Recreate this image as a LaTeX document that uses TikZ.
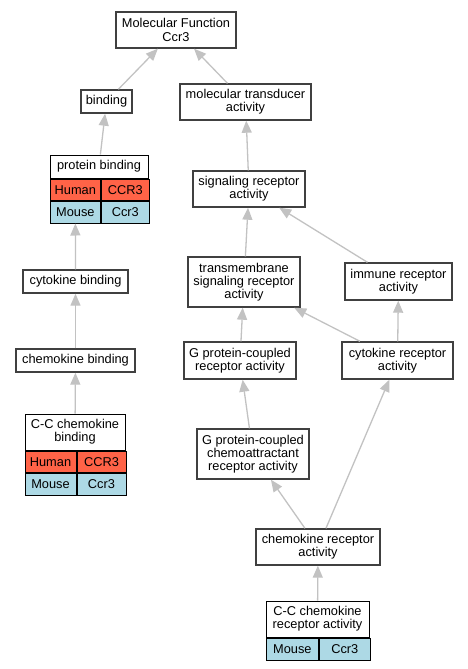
\documentclass[tikz,border=0pt]{standalone}
\usepackage{fontspec}
\setmainfont{Liberation Sans}
\usetikzlibrary{positioning,arrows.meta}
\definecolor{human}{rgb}{1, 0.39, 0.28}
\definecolor{mouse}{rgb}{0.68, 0.85, 0.9}
\definecolor{link}{rgb}{0.76, 0.76, 0.76}
\definecolor{frame}{rgb}{0.25, 0.25, 0.25}
\tikzset{
  term/.style={draw=frame, line width=1.4pt, fill=white, align=center, inner sep=0pt},
  tabtitle/.style={draw=black, line width=1pt, fill=white, align=center, inner sep=0pt},
  cell/.style={draw=black, line width=1pt, inner sep=0pt, minimum height=21.5pt},
  isa/.style={draw=link, line width=1.3pt, -{Triangle[length=12pt, width=10pt]}}
}
\newcommand{\leftterms}{
\node[term, minimum width=120pt, minimum height=36pt] (mf) at (176, 30) {Molecular Function\\Ccr3};
\node[term, minimum width=51pt, minimum height=23pt] (bind) at (106.5, 101.5) {binding};
\node[tabtitle, minimum width=98pt, minimum height=23pt] (pb) at (99, 166.5) {protein binding};
\node[cell, fill=human, minimum width=50.7pt, below right=0pt of pb.south west] (pbh) {Human};
\node[cell, fill=human, minimum width=47.3pt, right=0pt of pbh] (pbhg) {CCR3};
\node[cell, fill=mouse, minimum width=50.7pt, below right=0pt of pbh.south west] (pbm) {Mouse};
\node[cell, fill=mouse, minimum width=47.3pt, right=0pt of pbm] (pbmg) {Ccr3};
\node[term, minimum width=105pt, minimum height=23pt] (cytb) at (75.5, 281.5) {cytokine binding};
\node[term, minimum width=119pt, minimum height=23pt] (chemb) at (75.5, 360.5) {chemokine binding};
\node[tabtitle, minimum width=100pt, minimum height=36pt] (ccb) at (75, 432) {C-C chemokine\\binding};
\node[cell, fill=human, minimum width=51pt, below right=0pt of ccb.south west] (ccbh) {Human};
\node[cell, fill=human, minimum width=49pt, right=0pt of ccbh] (ccbhg) {CCR3};
\node[cell, fill=mouse, minimum width=51pt, below right=0pt of ccbh.south west] (ccbm) {Mouse};
\node[cell, fill=mouse, minimum width=49pt, right=0pt of ccbm] (ccbmg) {Ccr3};
}
\newcommand{\rightterms}{
\node[term, minimum width=131pt, minimum height=36pt] (mta) at (245.5, 102) {molecular transducer\\activity};
\node[term, minimum width=112pt, minimum height=36pt] (sra) at (249, 189) {signaling receptor\\activity};
\node[term, minimum width=112pt, minimum height=50pt] (tsra) at (244, 282) {transmembrane\\signaling receptor\\activity};
\node[term, minimum width=107pt, minimum height=37pt] (ira) at (398.5, 281.5) {immune receptor\\activity};
\node[term, minimum width=112pt, minimum height=37pt] (gpcr) at (240, 360.5) {G protein-coupled\\receptor activity};
\node[term, minimum width=111pt, minimum height=37pt] (cra) at (397.5, 360.5) {cytokine receptor\\activity};
\node[term, minimum width=112pt, minimum height=50pt] (gpcca) at (253, 454) {G protein-coupled\\chemoattractant\\receptor activity};
\node[term, minimum width=124pt, minimum height=36pt] (chemr) at (318, 547) {chemokine receptor\\activity};
\node[tabtitle, minimum width=103pt, minimum height=36pt] (ccra) at (317.5, 619) {C-C chemokine\\receptor activity};
\node[cell, fill=mouse, minimum width=52.7pt, minimum height=22pt, below right=0pt of ccra.south west] (ccram) {Mouse};
\node[cell, fill=mouse, minimum width=50.3pt, minimum height=22pt, right=0pt of ccram] (ccramg) {Ccr3};
}
\newcommand{\isaedges}{
\draw[isa] (bind) -- (mf);
\draw[isa] (mta) -- (mf);
\draw[isa] (pb) -- (bind);
\draw[isa] (cytb) -- (pbm);
\draw[isa] (chemb) -- (cytb);
\draw[isa] (ccb) -- (chemb);
\draw[isa] (sra) -- (mta);
\draw[isa] (tsra) -- (sra);
\draw[isa] (ira) -- (sra);
\draw[isa] (gpcr) -- (tsra);
\draw[isa] (cra) -- (tsra);
\draw[isa] (cra) -- (ira);
\draw[isa] (gpcca) -- (gpcr);
\draw[isa] (chemr) -- (gpcca);
\draw[isa] (chemr) -- (cra);
\draw[isa] (ccra) -- (chemr);
}

\begin{document}
\begin{tikzpicture}[x=1pt, y=-1pt, font=\fontsize{12.8}{13.3}\selectfont]
\useasboundingbox (0, 0) rectangle (468, 669);

% terms
\leftterms
\rightterms

% is_a links
\isaedges
\end{tikzpicture}
\end{document}
